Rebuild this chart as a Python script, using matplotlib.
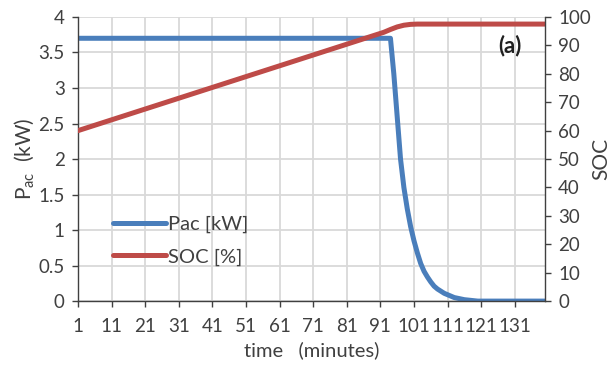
import numpy as np
import matplotlib
matplotlib.use('Agg')
import matplotlib.pyplot as plt

plt.rcParams['font.family'] = ['Lato', 'DejaVu Sans']
plt.rcParams['mathtext.fontset'] = 'custom'
plt.rcParams['mathtext.rm'] = 'Lato'
plt.rcParams['mathtext.it'] = 'Lato'

# Pac [kW] vs time (minutes)
pac_t = [1, 94, 95, 96, 97, 98, 99, 100, 101, 102, 103, 104, 105, 106, 107, 108,
         109, 110, 111, 112, 113, 114, 115, 116, 118, 120, 140]
pac_kw = [3.7, 3.7, 3.2, 2.6, 2.0, 1.6, 1.3, 1.05, 0.85, 0.68, 0.53, 0.42, 0.34,
          0.27, 0.21, 0.17, 0.14, 0.11, 0.09, 0.07, 0.05, 0.04, 0.03, 0.02, 0.01, 0.0, 0.0]

# SOC [%] vs time
soc_t = [1, 92, 94, 96, 98, 100, 102, 140]
soc_pct = [60, 94.6, 95.6, 96.5, 97.1, 97.4, 97.5, 97.5]

xticks = list(range(1, 132, 10))

text_col = '#404040'
grid_col = '#d9d9d9'
blue = '#4a7ebb'
red = '#be4b48'

fig = plt.figure(figsize=(6.12, 3.69), dpi=100)
ax = fig.add_axes([0.1275, 0.184, 0.763, 0.77])
ax2 = ax.twinx()

ax.plot(pac_t, pac_kw, color=blue, lw=3.6, solid_capstyle='round', label='Pac [kW]')
ax2.plot(soc_t, soc_pct, color=red, lw=3.6, solid_capstyle='round', label='SOC [%]')

ax.set_xlim(1, 140)
ax.set_ylim(0, 4)
ax2.set_ylim(0, 100)
ax.set_xticks(xticks)
ax.set_yticks(np.arange(0, 4.01, 0.5))
ax.set_yticklabels(['0', '0.5', '1', '1.5', '2', '2.5', '3', '3.5', '4'])
ax2.set_yticks(range(0, 101, 10))

ax.grid(True, color=grid_col, lw=1.3)
ax.set_axisbelow(True)

for a in (ax, ax2):
    a.spines['top'].set_visible(False)
    for s in a.spines.values():
        s.set_color('#404040')
        s.set_linewidth(1.0)
    a.tick_params(colors=text_col, labelsize=13.5, length=4.5, width=1.0,
                  labelcolor=text_col, pad=5)
ax.tick_params(axis='x', pad=8)
ax2.spines['left'].set_visible(False)
ax2.spines['bottom'].set_visible(False)
ax.spines['right'].set_visible(False)

ax.set_xlabel('time   (minutes)', fontsize=14.5, color=text_col, labelpad=4)
ax.set_ylabel(r'P$_{\mathrm{ac}}$  (kW)', fontsize=15, color=text_col, labelpad=2)
ax2.set_ylabel('SOC', fontsize=15, color=text_col, labelpad=0)

ax.text(0.925, 0.90, '(a)', transform=ax.transAxes, fontsize=16, fontweight='bold',
        ha='center', va='center', color='#202020')

h1, l1 = ax.get_legend_handles_labels()
h2, l2 = ax2.get_legend_handles_labels()
ax2.legend(h1 + h2, l1 + l2, loc='lower left', bbox_to_anchor=(0.045, 0.075),
           frameon=False, fontsize=14.5, handlelength=2.6, handletextpad=0.1,
           labelcolor=text_col, labelspacing=0.75, borderpad=0.2)

fig.savefig('out.png', dpi=100, facecolor='white')
